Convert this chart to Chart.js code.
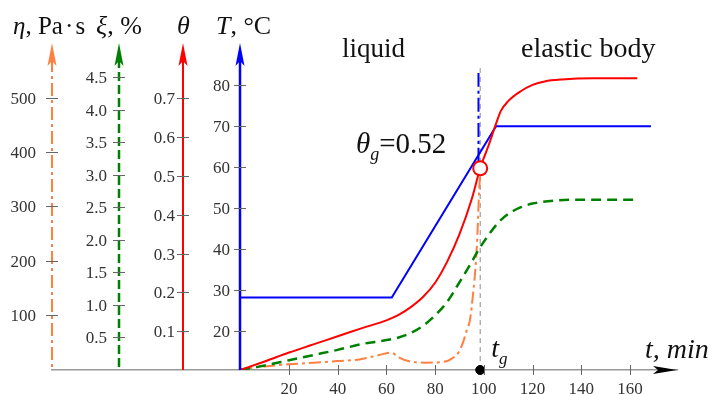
<!DOCTYPE html>
<html>
<head>
<meta charset="utf-8">
<script src="https://cdn.jsdelivr.net/npm/chart.js@4.4.0/dist/chart.umd.min.js"></script>
<style>
  html, body { margin: 0; padding: 0; background: #fff; }
  #wrap { width: 718px; height: 394px; }
</style>
</head>
<body>
<div id="wrap"><canvas id="chart"></canvas></div>
<script>
// tick values of each axis
const timeTicks = [20, 40, 60, 80, 100, 120, 140, 160];
const etaTicks = [100, 200, 300, 400, 500];
const xiTicks = [0.5, 1.0, 1.5, 2.0, 2.5, 3.0, 3.5, 4.0, 4.5];
const thetaTicks = [0.1, 0.2, 0.3, 0.4, 0.5, 0.6, 0.7];
const tempTicks = [20, 30, 40, 50, 60, 70, 80];

// temperature T, °C
const tempTime = [0, 62.2, 105, 168.6];
const tempValues = [28.2, 28.2, 70, 70];

// degree of cure theta
const thetaTime = [0, 10, 20, 30, 40, 50, 60, 65, 70, 75, 80, 85, 90, 95, 98.5, 102, 105, 107, 110, 115, 120, 125, 132, 145, 163];
const thetaValues = [0, 0.022, 0.045, 0.066, 0.087, 0.108, 0.128, 0.142, 0.162, 0.188, 0.225, 0.28, 0.35, 0.44, 0.52, 0.58, 0.635, 0.668, 0.693, 0.718, 0.735, 0.744, 0.749, 0.752, 0.752];

// xi, %
const xiTime = [0, 10, 20, 30, 40, 50, 60, 65, 70, 75, 80, 85, 90, 95, 98, 102, 106, 110, 115, 120, 130, 140, 163];
const xiValues = [0, 0.07, 0.15, 0.23, 0.31, 0.4, 0.46, 0.5, 0.57, 0.68, 0.84, 1.05, 1.35, 1.66, 1.86, 2.08, 2.27, 2.4, 2.5, 2.56, 2.61, 2.62, 2.62];

// viscosity eta, Pa·s
const etaTime = [0, 10, 20, 30, 40, 49, 57, 62, 65, 69, 76, 84, 87, 89.5, 91.5, 93, 94.3, 95.6, 96.8, 97.5, 98, 98.5];
const etaValues = [0, 5, 9, 12, 15, 18, 26, 30.5, 22, 15, 12, 14, 20, 30, 50, 72, 91, 140, 202, 263, 324, 360];

// gel point
const tGel = 98.5;
const thetaGel = 0.52;

const serif = "'Liberation Serif', 'DejaVu Serif', serif";
const pts = (xs, ys) => xs.map((x, i) => ({ x: x, y: ys[i] }));
const fixTicks = (list) => (scale) => { scale.ticks = list.map((v) => ({ value: v })); };

// vertical axes sit at a time value of the x scale
const yAxes = [
    { id: "yEta", color: "#ff8040", dash: [13, 4, 3, 4], width: 2, gap: 16 },
    { id: "yXi", color: "#008000", dash: [9, 4], width: 2.5, gap: 12 },
    { id: "yTheta", color: "#ff0000", dash: [], width: 2, gap: 8 },
    { id: "yT", color: "#0000ff", dash: [], width: 2.5, gap: 10 }
];

function yAxis(at, min, max, list, digits) {
    return {
        type: "linear",
        axis: "y",
        position: { x: at },
        min: min,
        max: max,
        afterBuildTicks: fixTicks(list),
        ticks: {
            display: false,
            autoSkip: false,
            callback: (v) => digits ? Number(v).toFixed(digits) : String(v)
        },
        grid: { drawOnChartArea: false, drawTicks: false },
        border: { display: false }
    };
}

// axis lines, arrows, tick crosses, tick labels and text
const decorations = {
    id: "decorations",
    afterDraw(chart) {
        const ctx = chart.ctx;
        const area = chart.chartArea;
        const sx = chart.scales.x;
        ctx.save();

        yAxes.forEach((a) => {
            const s = chart.scales[a.id];
            const x = Math.round(sx.getPixelForValue(s.options.position.x));
            // axis line
            ctx.strokeStyle = a.color;
            ctx.lineWidth = a.width;
            ctx.setLineDash(a.dash);
            ctx.beginPath();
            ctx.moveTo(x, area.top + 16);
            ctx.lineTo(x, area.bottom);
            ctx.stroke();
            ctx.setLineDash([]);
            // arrow head
            ctx.fillStyle = a.color;
            ctx.beginPath();
            ctx.moveTo(x, area.top);
            ctx.lineTo(x + 4.5, area.top + 23);
            ctx.lineTo(x, area.top + 18);
            ctx.lineTo(x - 4.5, area.top + 23);
            ctx.closePath();
            ctx.fill();
            // tick crosses and labels
            ctx.strokeStyle = "#666";
            ctx.lineWidth = 1;
            ctx.fillStyle = "#333";
            ctx.font = "17px " + serif;
            ctx.textAlign = "right";
            ctx.textBaseline = "middle";
            s.ticks.forEach((t) => {
                const y = Math.round(s.getPixelForValue(t.value)) + 0.5;
                ctx.beginPath();
                ctx.moveTo(x - 6, y);
                ctx.lineTo(x + 6, y);
                ctx.stroke();
                ctx.fillText(t.label, x - a.gap, y + 1);
            });
        });

        // x ticks
        ctx.strokeStyle = "#666";
        ctx.lineWidth = 1;
        sx.ticks.forEach((t) => {
            const x = Math.round(sx.getPixelForValue(t.value)) + 0.5;
            ctx.beginPath();
            ctx.moveTo(x, area.bottom - 5);
            ctx.lineTo(x, area.bottom + 5);
            ctx.stroke();
        });
        // x arrow
        ctx.fillStyle = "#000";
        ctx.beginPath();
        ctx.moveTo(area.right, area.bottom);
        ctx.lineTo(area.right - 24, area.bottom - 4);
        ctx.lineTo(area.right - 19, area.bottom);
        ctx.lineTo(area.right - 24, area.bottom + 4);
        ctx.closePath();
        ctx.fill();

        // rich text helper
        ctx.fillStyle = "#111";
        ctx.textBaseline = "alphabetic";
        ctx.textAlign = "left";
        const rich = (x, y, parts) => {
            parts.forEach(([txt, size, italic, dy]) => {
                ctx.font = (italic ? "italic " : "") + size + "px " + serif;
                ctx.fillText(txt, x, y + (dy || 0));
                x += ctx.measureText(txt).width;
            });
        };

        // axis titles
        rich(13, 34, [["η", 25, true], [", Pa\u200a·\u200as", 25, false]]);
        rich(96, 34, [["ξ", 26, true], [", %", 26, false]]);
        rich(177, 34, [["θ", 26, true]]);
        rich(216, 34, [["T", 26, true], [", °C", 26, false]]);

        // annotations
        rich(342, 57, [["liquid", 27, false]]);
        rich(521, 57, [["elastic body", 28, false]]);
        rich(356, 153, [["θ", 29, true], ["g", 18, true, 7], ["=0.52", 29, false]]);
        const xg = sx.getPixelForValue(tGel);
        rich(xg + 11, 357, [["t", 28, true], ["g", 17, true, 7]]);
        rich(645, 358, [["t, min", 28, true]]);

        ctx.restore();
    }
};

new Chart(document.getElementById("chart"), {
    type: "line",
    data: {
        datasets: [
            {
                label: "gel circle",
                data: [{ x: tGel, y: thetaGel }],
                yAxisID: "yTheta",
                showLine: false,
                pointRadius: 7,
                pointBackgroundColor: "#fff",
                pointBorderColor: "#ff0000",
                pointBorderWidth: 2,
                order: 0
            },
            {
                label: "gel dot",
                data: [{ x: tGel, y: 10.5 }],
                yAxisID: "yT",
                showLine: false,
                pointRadius: 4.5,
                pointBackgroundColor: "#000",
                pointBorderColor: "#000",
                clip: false,
                order: 0
            },
            {
                label: "theta",
                data: pts(thetaTime, thetaValues),
                yAxisID: "yTheta",
                borderColor: "#ff0000",
                borderWidth: 2,
                order: 1
            },
            {
                label: "T",
                data: pts(tempTime, tempValues),
                yAxisID: "yT",
                borderColor: "#0000ff",
                borderWidth: 2,
                cubicInterpolationMode: "default",
                tension: 0,
                order: 2
            },
            {
                label: "xi",
                data: pts(xiTime, xiValues),
                yAxisID: "yXi",
                borderColor: "#008000",
                borderWidth: 2.5,
                borderDash: [10, 6],
                order: 3
            },
            {
                label: "eta",
                data: pts(etaTime, etaValues),
                yAxisID: "yEta",
                borderColor: "#ff8040",
                borderWidth: 2,
                borderDash: [12, 4, 3, 4],
                order: 4
            },
            {
                label: "T vertical",
                data: [{ x: 97.8, y: 61.3 }, { x: 97.8, y: 83 }],
                yAxisID: "yT",
                borderColor: "#0000ff",
                borderWidth: 2,
                borderDash: [14, 4, 3, 4],
                order: 5
            },
            {
                label: "gel line",
                data: [{ x: tGel, y: 10.5 }, { x: tGel, y: 84.2 }],
                yAxisID: "yT",
                borderColor: "#888",
                borderWidth: 1,
                borderDash: [5, 4],
                order: 6
            }
        ]
    },
    options: {
        responsive: true,
        maintainAspectRatio: false,
        animation: false,
        devicePixelRatio: 1,
        layout: { padding: { left: 52, right: 41, top: 43, bottom: 24 } },
        elements: {
            point: { radius: 0 },
            line: { cubicInterpolationMode: "monotone", fill: false }
        },
        plugins: { legend: { display: false }, tooltip: { enabled: false } },
        scales: {
            x: {
                type: "linear",
                min: -77.3,
                max: 179.3,
                position: { yT: 10.5 },
                afterBuildTicks: fixTicks(timeTicks),
                ticks: {
                    autoSkip: false,
                    maxRotation: 0,
                    padding: 9,
                    color: "#333",
                    font: { family: serif, size: 17 }
                },
                grid: { drawOnChartArea: false, drawTicks: false },
                border: { color: "#999", width: 1.5 }
            },
            yEta: yAxis(-77.3, -1.5, 601, etaTicks, 0),
            yXi: yAxis(-49.8, 0, 5.03, xiTicks, 1),
            yTheta: yAxis(-23.5, 0, 0.843, thetaTicks, 1),
            yT: yAxis(0, 10.5, 90.3, tempTicks, 0)
        }
    },
    plugins: [decorations]
});
</script>
</body>
</html>
